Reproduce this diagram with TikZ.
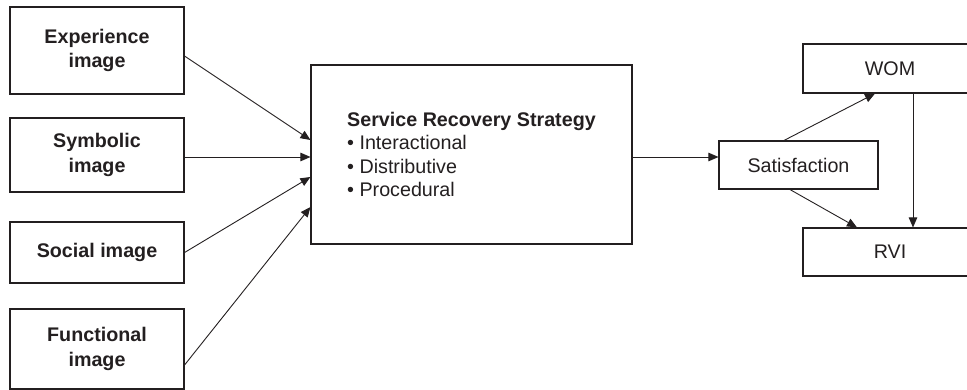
\documentclass[tikz,border=0pt]{standalone}
\usepackage{fontspec}
\setmainfont{Liberation Sans}
\usepackage{tikz}
\usetikzlibrary{arrows.meta, positioning, calc}
\usepackage{xcolor}
\definecolor{ink}{RGB}{35,31,32}

\begin{document}
\begin{tikzpicture}[x=1pt, y=-1pt, ink, line width=1.1pt,
  box/.style={draw=ink, line width=1.1pt, align=center, inner sep=0pt,
    font=\fontsize{19.7}{23.6}\selectfont},
  arr/.style={-{Triangle[length=10pt,width=8.5pt]}, line width=0.9pt}]
  \useasboundingbox (0,0) rectangle (967,390);
  % image boxes
  \node[box, minimum width=174pt, minimum height=87pt, font=\fontsize{19.7}{24.5}\selectfont\bfseries] (exper) at (97,50.5) {Experience\\image};
  \node[box, minimum width=174pt, minimum height=74pt, font=\fontsize{19.7}{24.5}\selectfont\bfseries] (symb) at (97,155) {Symbolic\\image};
  \node[box, minimum width=174pt, minimum height=61pt, font=\fontsize{19.7}{24.5}\selectfont\bfseries] (social) at (97,252.5) {Social image};
  \node[box, minimum width=174pt, minimum height=80pt, font=\fontsize{19.7}{24.5}\selectfont\bfseries] (func) at (97,349) {Functional\\image};
  % strategy
  \node[box, minimum width=321pt, minimum height=179pt, align=left] (strat) at (471.5,154.5)
    {\textbf{Service Recovery Strategy}\\• Interactional\\• Distributive\\• Procedural};
  % outcomes
  \node[box, minimum width=159pt, minimum height=48pt] (satis) at (798.5,165) {Satisfaction};
  \node[box, minimum width=174pt, minimum height=49pt] (wom) at (890,68.5) {WOM};
  \node[box, minimum width=174pt, minimum height=48pt] (rvi) at (890,252) {RVI};
  % connectors
  \draw[arr] ([yshift=-5.5pt]exper.east) -- ([yshift=14.5pt]strat.west);
  \draw[arr] ([yshift=-2pt]symb.east) -- ([yshift=-2.5pt]strat.west);
  \draw[arr] (social.east) -- ([yshift=-22.5pt]strat.west);
  \draw[arr] ([yshift=-16pt]func.east) -- ([yshift=-52.5pt]strat.west);
  \draw[arr] ([yshift=-2.5pt]strat.east) -- ([yshift=-2.5pt]strat.east -| satis.west);
  \draw[arr] ([xshift=-14.5pt]satis.north) -- ([xshift=-15pt]wom.south);
  \draw[arr] ([xshift=-8.5pt]satis.south) -- ([xshift=-33pt]rvi.north);
  \draw[arr] ([xshift=23pt]wom.south) -- ([xshift=23pt]rvi.north);
\end{tikzpicture}
\end{document}
